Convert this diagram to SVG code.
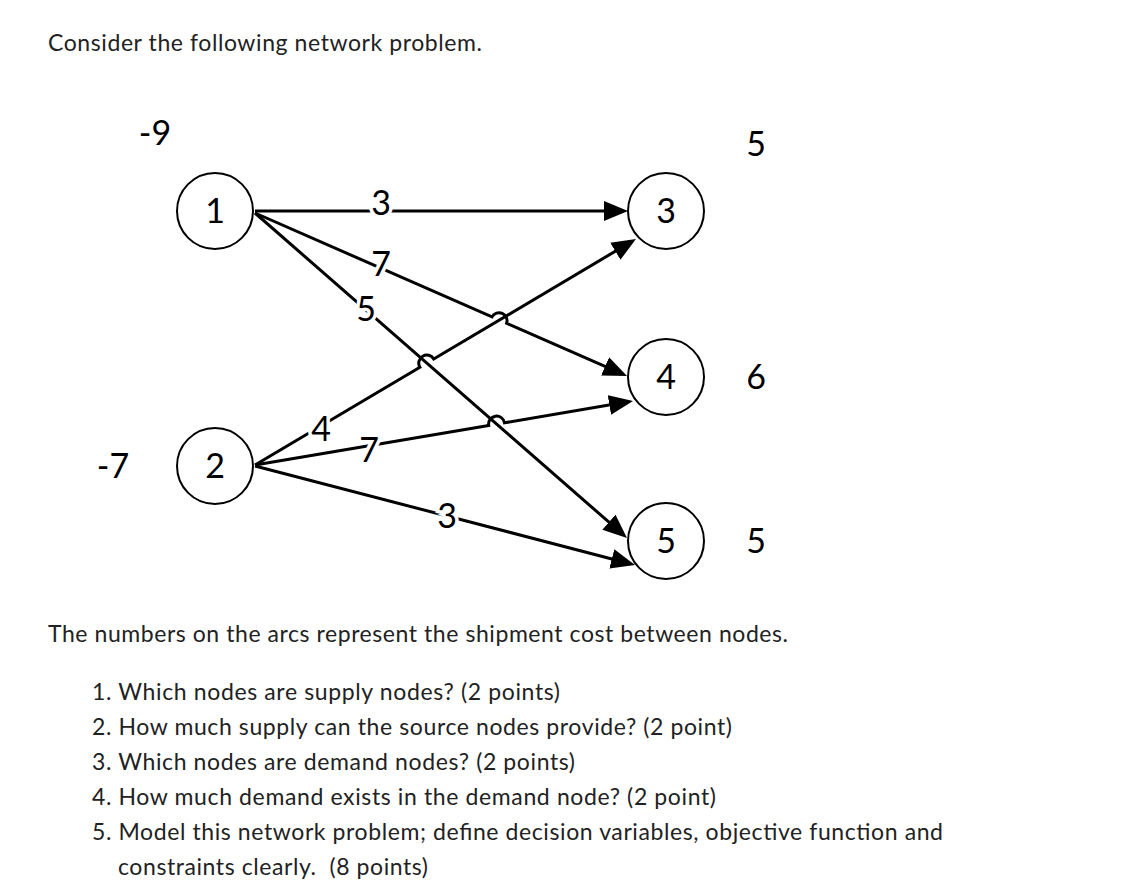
<svg xmlns="http://www.w3.org/2000/svg" width="1138" height="889" viewBox="0 0 1138 889">
<style>
.body{font-family:Lato,"Liberation Sans",sans-serif;font-size:23px;fill:#222}
.num{font-family:Lato,"Open Sans","Liberation Sans",sans-serif;font-size:34px;fill:#000;text-anchor:middle}
.lbl{font-family:Lato,"Open Sans","Liberation Sans",sans-serif;font-size:34px;fill:#000;text-anchor:middle;stroke:#fff;stroke-width:7;paint-order:stroke}
.node circle{fill:#fff;stroke:#000;stroke-width:2}
.edge{fill:none;stroke:#000;stroke-width:3;marker-end:url(#arr)}
</style>
<defs>
<marker id="arr" markerUnits="userSpaceOnUse" markerWidth="26" markerHeight="22" refX="13" refY="10" orient="auto">
<path d="M0,0 L24,10 L0,20 z" fill="#000"/>
</marker>
</defs>
<rect width="1138" height="889" fill="#fff"/>
<text class="body" x="48" y="51" textLength="434">Consider the following network problem.</text>

<g id="connectors">
<path class="edge" d="M255,211 L617,211"/>
<path class="edge" d="M255,213 L492,316.9 A8,8 0 0 1 506.6,323.3 L617,371.6"/>
<path class="edge" d="M255,213 L618.7,530.7"/>
<path class="edge" d="M255,465 L419.9,367.2 A8,8 0 0 1 433.7,359 L626.5,244.6"/>
<path class="edge" d="M255,465 L488.7,425.4 A8,8 0 0 1 504.5,422.8 L622.2,402.8"/>
<path class="edge" d="M255,466 L624.4,562.2"/>
<text class="lbl" x="381" y="215">3</text>
<text class="lbl" x="381" y="276">7</text>
<text class="lbl" x="366" y="321">5</text>
<text class="lbl" x="321" y="441">4</text>
<text class="lbl" x="369" y="462">7</text>
<text class="lbl" x="447" y="528">3</text>
</g>

<g id="node1" class="node"><circle cx="215" cy="211" r="38"/><text class="num" x="215" y="223">1</text></g>
<g id="node2" class="node"><circle cx="215" cy="466" r="38"/><text class="num" x="215" y="478">2</text></g>
<g id="node3" class="node"><circle cx="666" cy="211" r="38"/><text class="num" x="666" y="223">3</text></g>
<g id="node4" class="node"><circle cx="666" cy="377" r="38"/><text class="num" x="666" y="389">4</text></g>
<g id="node5" class="node"><circle cx="666" cy="541" r="38"/><text class="num" x="666" y="553">5</text></g>

<g id="supplies">
<text class="num" x="155" y="145">-9</text>
<text class="num" x="113" y="478">-7</text>
<text class="num" x="756" y="156">5</text>
<text class="num" x="756" y="389">6</text>
<text class="num" x="756" y="553">5</text>
</g>

<text class="body" x="48" y="642" textLength="740">The numbers on the arcs represent the shipment cost between nodes.</text>
<text class="body" x="92" y="700" textLength="468">1. Which nodes are supply nodes? (2 points)</text>
<text class="body" x="92" y="735" textLength="640">2. How much supply can the source nodes provide? (2 point)</text>
<text class="body" x="92" y="770" textLength="483">3. Which nodes are demand nodes? (2 points)</text>
<text class="body" x="92" y="805" textLength="624">4. How much demand exists in the demand node? (2 point)</text>
<text class="body" x="92" y="840" textLength="851">5. Model this network problem; define decision variables, objective function and</text>
<text class="body" x="118" y="875" textLength="310" xml:space="preserve">constraints clearly.  (8 points)</text>
</svg>
